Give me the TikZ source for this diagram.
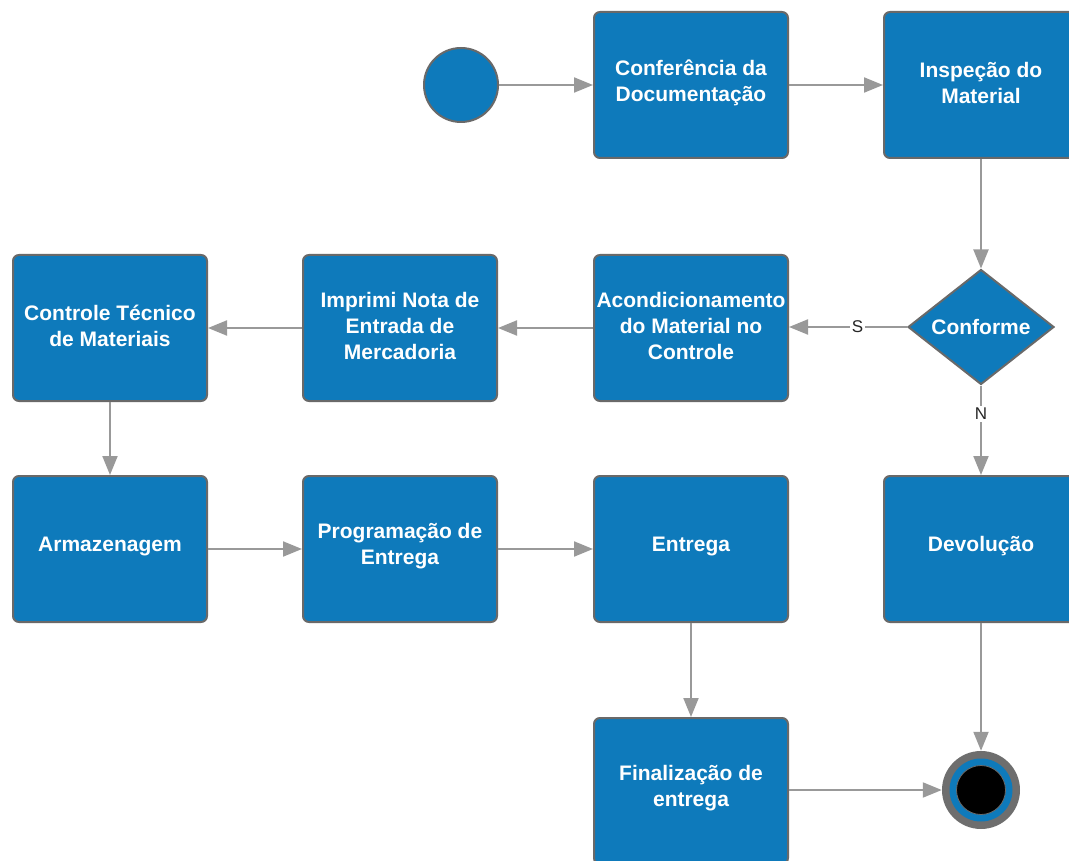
\documentclass[tikz,border=0pt]{standalone}
\usepackage{fontspec}
\setmainfont{Liberation Sans}
\usetikzlibrary{shapes.geometric,arrows.meta}
\definecolor{boxblue}{RGB}{14,122,187}
\definecolor{boxline}{RGB}{105,105,105}
\definecolor{arrowgray}{RGB}{153,153,153}
\definecolor{ringgray}{RGB}{110,110,110}
\tikzset{
  stepbox/.style={draw=boxline, line width=2pt, fill=boxblue, rounded corners=6pt,
    minimum width=194pt, minimum height=146pt, inner sep=0pt},
  boxtext/.style={align=center, text=white, inner sep=0pt, yshift=2.5pt,
    font=\fontsize{21}{26}\selectfont\bfseries},
  decision/.style={diamond, draw=boxline, line width=2pt, fill=boxblue,
    minimum width=146pt, minimum height=115pt, aspect=1.27, inner sep=0pt,
    text=white, font=\fontsize{21}{26}\selectfont\bfseries},
  flow/.style={draw=arrowgray, line width=2pt, -{Triangle[length=19pt,width=15pt]}},
  edgelabel/.style={fill=white, inner sep=2pt, text=black!85, font=\fontsize{17}{20}\selectfont}
}
\begin{document}
\begin{tikzpicture}[x=1pt,y=-1pt]
\useasboundingbox (0,0) rectangle (1069,861);
\clip (0,0) rectangle (1069,861);
% nodes
\node[circle, draw=boxline, line width=2pt, fill=boxblue, minimum size=74pt, inner sep=0pt] (start) at (461,85) {};
\node[stepbox, label={[boxtext]center:{Conferência da\\Documentação}}] (conf) at (691,85) {};
\node[stepbox, label={[boxtext]center:{Inspeção do\\Material}}] (insp) at (981,85) {};
\node[decision] (conforme) at (981,327) {Conforme};
\node[stepbox, label={[boxtext]center:{Acondicionamento\\do Material no\\Controle}}] (acond) at (691,328) {};
\node[stepbox, label={[boxtext]center:{Imprimi Nota de\\Entrada de\\Mercadoria}}] (imprimi) at (400,328) {};
\node[stepbox, label={[boxtext]center:{Controle Técnico\\de Materiais}}] (controle) at (110,328) {};
\node[stepbox, label={[boxtext]center:{Armazenagem}}] (armaz) at (110,549) {};
\node[stepbox, label={[boxtext]center:{Programação de\\Entrega}}] (prog) at (400,549) {};
\node[stepbox, label={[boxtext]center:{Entrega}}] (entrega) at (691,549) {};
\node[stepbox, label={[boxtext]center:{Devolução}}] (devol) at (981,549) {};
\node[stepbox, label={[boxtext]center:{Finalização de\\entrega}}] (final) at (691,791) {};
% end node
\node[circle, fill=ringgray, minimum size=78pt, inner sep=0pt] (end) at (981,790) {};
\fill[boxblue] (end.center) circle (31.5pt);
\filldraw[fill=black, draw=boxline, line width=0.8pt] (end.center) circle (24.5pt);
% connectors
\draw[flow] (start) -- (conf);
\draw[flow] (conf) -- (insp);
\draw[flow] (insp) -- (conforme);
\draw[flow] (conforme.west) -- node[edgelabel, pos=0.42] {S} (acond.east |- conforme.west);
\draw[flow] (acond) -- (imprimi);
\draw[flow] (imprimi) -- (controle);
\draw[flow] (controle) -- (armaz);
\draw[flow] (armaz) -- (prog);
\draw[flow] (prog) -- (entrega);
\draw[flow] (conforme) -- node[edgelabel, pos=0.32] {N} (devol);
\draw[flow] (entrega) -- (final);
\draw[flow] (devol) -- (end);
\draw[flow] (final.east |- end.west) -- (end.west);
\end{tikzpicture}
\end{document}
